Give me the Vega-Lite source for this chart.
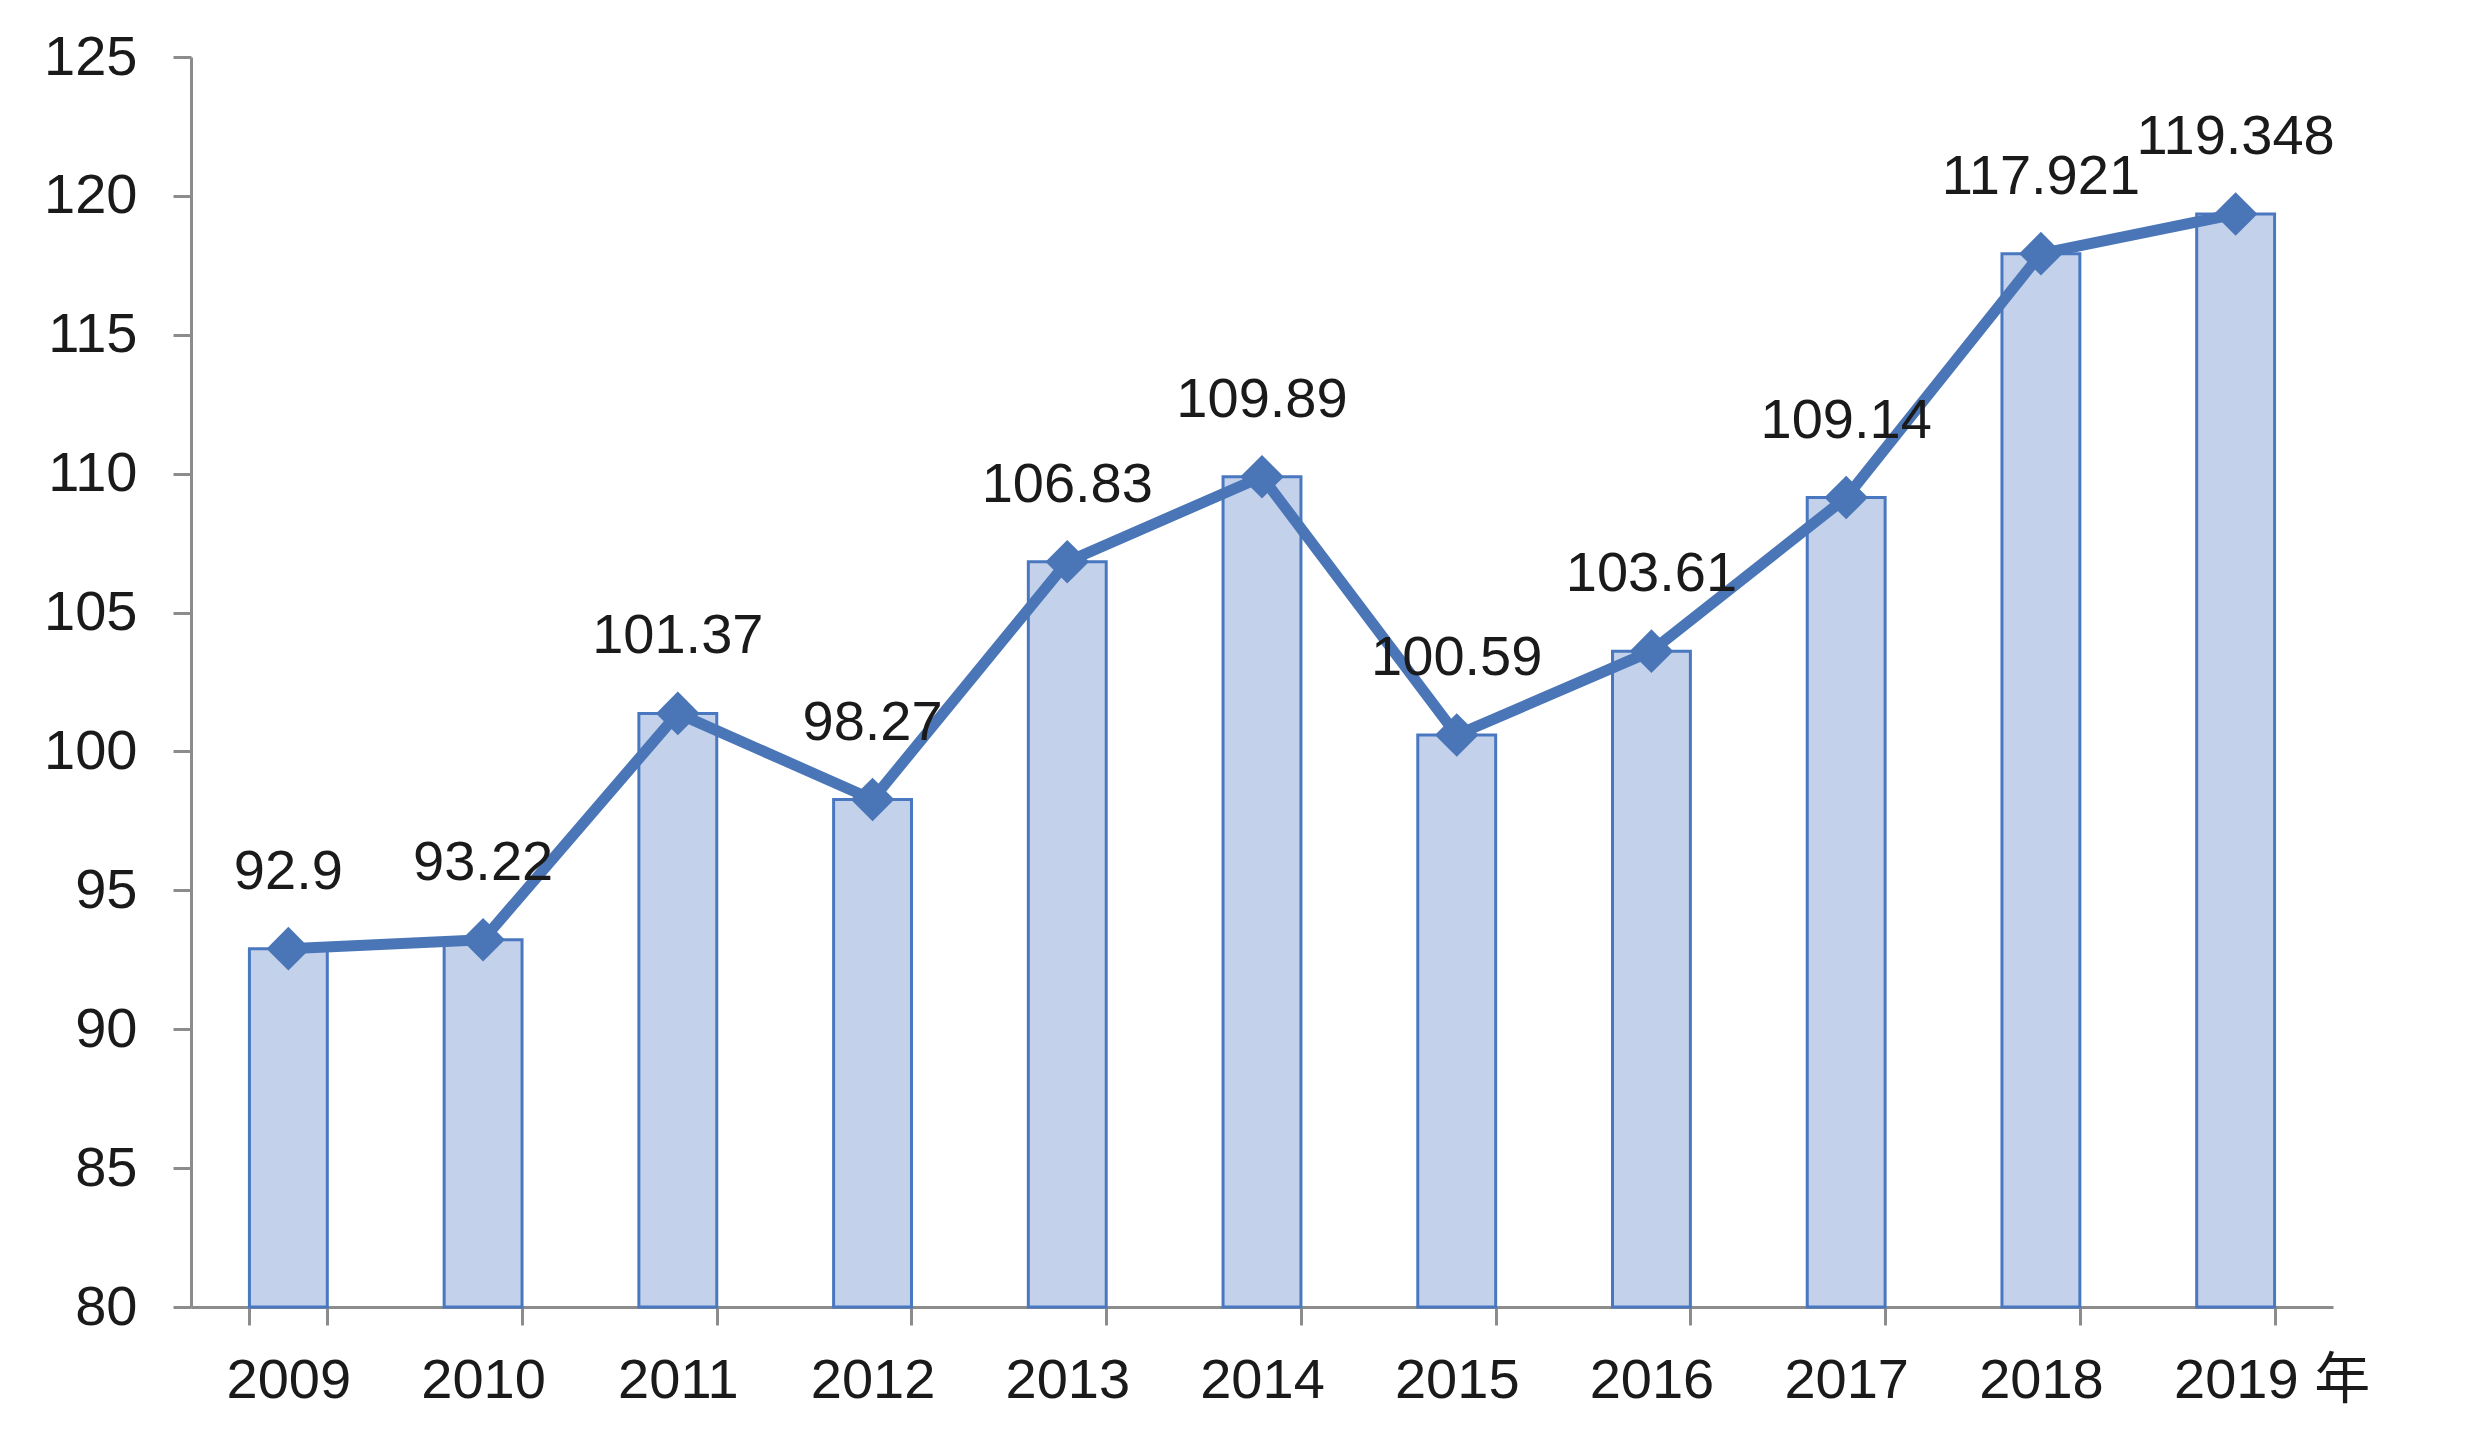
{
  "$schema": "https://vega.github.io/schema/vega-lite/v6.json",
  "autosize": {"type": "none"},
  "padding": {"left": 191, "top": 57, "right": 133, "bottom": 124},
  "width": 2142,
  "height": 1250,
  "background": "white",
  "config": {
    "view": {"stroke": null},
    "font": "Liberation Sans"
  },
  "data": {
    "values": [
      {"year": "2009", "value": 92.9},
      {"year": "2010", "value": 93.22},
      {"year": "2011", "value": 101.37},
      {"year": "2012", "value": 98.27},
      {"year": "2013", "value": 106.83},
      {"year": "2014", "value": 109.89},
      {"year": "2015", "value": 100.59},
      {"year": "2016", "value": 103.61},
      {"year": "2017", "value": 109.14},
      {"year": "2018", "value": 117.921},
      {"year": "2019", "value": 119.348}
    ]
  },
  "encoding": {
    "x": {
      "field": "year",
      "type": "nominal",
      "sort": null,
      "scale": {"paddingInner": 0.6, "paddingOuter": 0.3},
      "axis": {
        "title": null,
        "labelAngle": 0,
        "labelFont": "Liberation Sans, Noto Sans CJK SC",
        "labelFontSize": 56,
        "labelColor": "#1a1a1a",
        "labelPadding": 28,
        "labelLimit": 0,
        "labelExpr": "datum.value == '2019' ? '2019 年' : datum.label",
        "labelOffset": {"condition": {"test": "datum.value == '2019'", "value": 36}, "value": 0},
        "tickBand": "extent",
        "tickSize": 18,
        "tickWidth": 3,
        "tickColor": "#8c8c8c",
        "domainColor": "#8c8c8c",
        "domainWidth": 3,
        "grid": false
      }
    },
    "y": {
      "field": "value",
      "type": "quantitative",
      "scale": {"domain": [80, 125], "zero": false, "nice": false},
      "axis": {
        "title": null,
        "values": [80, 85, 90, 95, 100, 105, 110, 115, 120, 125],
        "labelFontSize": 56,
        "labelColor": "#1a1a1a",
        "labelPadding": 36,
        "tickSize": 18,
        "tickWidth": 3,
        "tickColor": "#8c8c8c",
        "domainColor": "#8c8c8c",
        "domainWidth": 3,
        "grid": false
      }
    }
  },
  "layer": [
    {
      "mark": {"type": "bar", "fill": "#c3d1ea", "stroke": "#4a78c0", "strokeWidth": 3},
      "encoding": {"y2": {"datum": 80}}
    },
    {
      "mark": {"type": "line", "color": "#4a76b8", "strokeWidth": 11, "strokeJoin": "round"}
    },
    {
      "mark": {"type": "point", "shape": "diamond", "size": 1900, "filled": true, "opacity": 1, "color": "#4a76b8"}
    },
    {
      "mark": {"type": "text", "fontSize": 56, "color": "#1a1a1a", "baseline": "alphabetic", "dy": -60},
      "encoding": {"text": {"field": "value", "type": "nominal"}}
    }
  ]
}
